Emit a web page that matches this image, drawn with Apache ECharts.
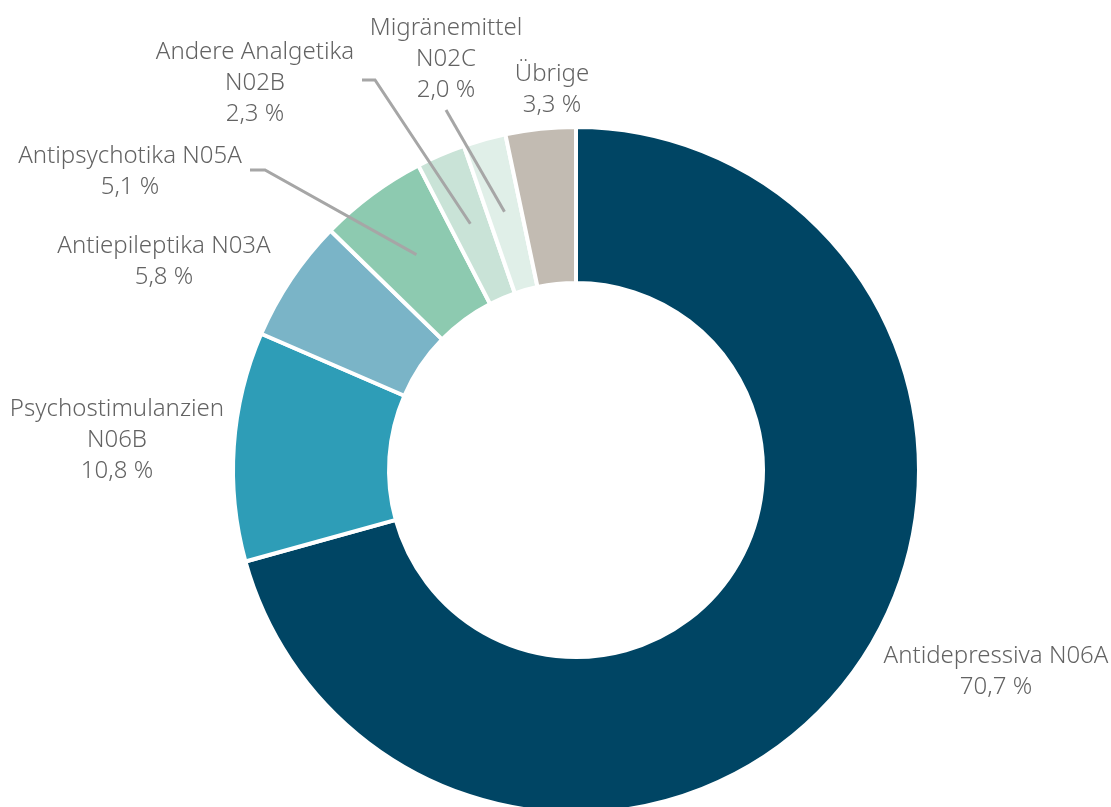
<!DOCTYPE html>
<html>
<head>
<meta charset="utf-8">
<script src="https://cdn.jsdelivr.net/npm/echarts@6/dist/echarts.min.js"></script>
<style>
    html, body { margin: 0; padding: 0; background: #fff; }
    #main { width: 1111px; height: 807px; }
</style>
</head>
<body>
<div id="main"></div>
<script>
// data
var names = ['Antidepressiva N06A', 'Psychostimulanzien\nN06B', 'Antiepileptika N03A',
    'Antipsychotika N05A', 'Andere Analgetika\nN02B', 'Migränemittel\nN02C', 'Übrige'];
var values = [70.7, 10.8, 5.8, 5.1, 2.3, 2.0, 3.3];
var colors = ['#004564', '#2e9db7', '#7ab4c7', '#8dcab0', '#c9e3d7', '#e0efe8', '#c2bbb2'];

// layout
var cx = 576, cy = 470, rIn = 187, rOut = 343;
// label centres (text block middle)
var labelPos = [[996, 672], [117, 440], [164, 262], [130, 172], [255, 83], [446, 59], [552, 90]];
// start / elbow of leader lines, null = no line
var lineStart = [null, null, null, [[250, 170], [265, 170]], [[362, 80], [375, 80]], [[446, 110]], null];

var total = 0;
values.forEach(function (v) { total += v; });

function midPoint(idx, r) {
    var before = 0;
    for (var i = 0; i < idx; i++) before += values[i];
    var a = (before + values[idx] / 2) / total * Math.PI * 2;
    return [cx + r * Math.sin(a), cy - r * Math.cos(a)];
}

var chart = echarts.init(document.getElementById('main'));

var seriesData = names.map(function (n, i) {
    return {
        name: n,
        value: values[i],
        itemStyle: { color: colors[i] }
    };
});

// leader lines drawn on top of the ring
var leaders = [];
lineStart.forEach(function (pts, i) {
    if (!pts) return;
    leaders.push({
        type: 'polyline',
        z: 100,
        silent: true,
        shape: { points: pts.concat([midPoint(i, 268)]) },
        style: { stroke: '#a6a6a6', lineWidth: 3, fill: null }
    });
});

chart.setOption({
    animation: false,
    graphic: leaders,
    series: [{
        type: 'pie',
        center: [cx, cy],
        radius: [rIn, rOut],
        startAngle: 90,
        clockwise: true,
        avoidLabelOverlap: false,
        itemStyle: { borderColor: '#fff', borderWidth: 4 },
        label: {
            show: true,
            color: '#636363',
            fontFamily: 'Noto Sans',
            fontWeight: 300,
            fontSize: 24,
            lineHeight: 31,
            align: 'center',
            formatter: function (p) {
                return p.name + '\n' + p.value.toFixed(1).replace('.', ',') + ' %';
            }
        },
        labelLine: { show: false },
        labelLayout: function (params) {
            var i = params.dataIndex;
            return {
                x: labelPos[i][0],
                y: labelPos[i][1],
                align: 'center',
                verticalAlign: 'middle'
            };
        },
        data: seriesData
    }]
});
</script>
</body>
</html>
